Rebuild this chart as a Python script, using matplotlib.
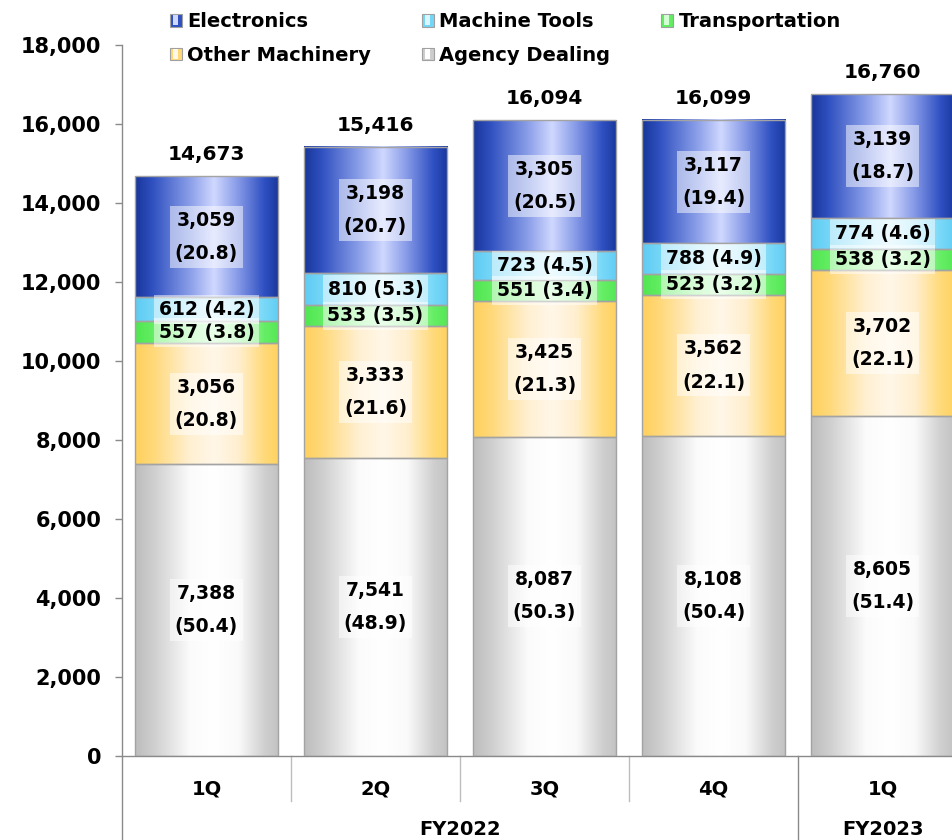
import numpy as np
import matplotlib
matplotlib.use("Agg")
from matplotlib import pyplot as plt
from matplotlib.patches import Patch, Rectangle
from matplotlib.legend_handler import HandlerBase
import matplotlib.transforms as mtransforms

# quarterly sales by segment (million yen), share of total in brackets
quarters = ["1Q", "2Q", "3Q", "4Q", "1Q"]
years = ["FY2022", "FY2023"]
totals = [14673, 15416, 16094, 16099, 16760]

agency = [7388, 7541, 8087, 8108, 8605]
agency_pct = [50.4, 48.9, 50.3, 50.4, 51.4]
other_mach = [3056, 3333, 3425, 3562, 3702]
other_pct = [20.8, 21.6, 21.3, 22.1, 22.1]
transport = [557, 533, 551, 523, 538]
transport_pct = [3.8, 3.5, 3.4, 3.2, 3.2]
mach_tools = [612, 810, 723, 788, 774]
tools_pct = [4.2, 5.3, 4.5, 4.9, 4.6]
electronics = [3059, 3198, 3305, 3117, 3139]
elec_pct = [20.8, 20.7, 20.5, 19.4, 18.7]

# shading stops across each bar, left -> right
stop_pos = [0.0, 0.12, 0.38, 0.55, 0.72, 0.9, 1.0]
shade_agency = ["#bdbdbd", "#cdcdcd", "#fbfbfb", "#ffffff", "#fafafa", "#d0d0d0", "#c2c2c2"]
shade_other = ["#ffd05c", "#ffd878", "#fff0d2", "#fff7e8", "#ffefcf", "#ffda7a", "#ffd25f"]
shade_trans = ["#50e650", "#62ed62", "#b4fab4", "#d4ffd4", "#b0f8b0", "#66ee66", "#55e855"]
shade_tools = ["#5ecbf3", "#74d6f7", "#bdeefd", "#dcf6ff", "#b8ecfc", "#78d8f8", "#62cdf4"]
shade_elec = ["#18369a", "#2f50c0", "#8a9ee8", "#d0d8ff", "#8498e6", "#2f50c2", "#19389c"]

# stacking order bottom -> top: (name, values, pcts, shading, two-line label)
series = [
    ("Agency Dealing", agency, agency_pct, shade_agency, True),
    ("Other Machinery", other_mach, other_pct, shade_other, True),
    ("Transportation", transport, transport_pct, shade_trans, False),
    ("Machine Tools", mach_tools, tools_pct, shade_tools, False),
    ("Electronics", electronics, elec_pct, shade_elec, True),
]
shades = {s[0]: s[3] for s in series}


def gradient(cols, n=240):
    """left-to-right cylinder shading"""
    cs = np.array([matplotlib.colors.to_rgb(c) for c in cols])
    t = np.linspace(0, 1, n)
    img = np.stack([np.interp(t, stop_pos, cs[:, k]) for k in range(3)], axis=1)
    return img[None, :, :]


class GradientBox(HandlerBase):
    def create_artists(self, legend, orig_handle, xdescent, ydescent,
                       width, height, fontsize, trans):
        cols = shades[orig_handle.get_label()]
        s = height
        x0 = -xdescent + (width - s) / 2
        y0 = -ydescent
        arts = [Rectangle((x0, y0), s, s, facecolor=cols[1], edgecolor="#a0a0a0",
                          linewidth=0.8, transform=trans)]
        arts.append(Rectangle((x0 + s * 0.3, y0 + 0.8), s * 0.4, s - 1.6,
                              facecolor=cols[3], edgecolor="none", transform=trans))
        return arts


plt.rcParams["font.family"] = ["DejaVu Sans"]
plt.rcParams["font.weight"] = "bold"

fig = plt.figure(figsize=(9.53, 8.40), dpi=100)
ax = fig.add_axes([0.128, 0.1, 0.872, 0.8464])

x = np.arange(len(quarters))
width = 0.85
bottom = np.zeros(len(quarters))
handles = {}
for name, vals, pcts, cols, two_line in series:
    vals = np.array(vals, dtype=float)
    img = gradient(cols)
    for i in range(len(x)):
        ax.imshow(img, extent=[x[i] - width / 2, x[i] + width / 2, bottom[i], bottom[i] + vals[i]],
                  aspect="auto", interpolation="bilinear", zorder=2)
    ax.bar(x, vals, width, bottom=bottom, facecolor="none", edgecolor="#a3a3a3",
           linewidth=1.0, zorder=3)
    for i in range(len(x)):
        yc = bottom[i] + vals[i] / 2
        if two_line:
            txt = "{:,}\n({:.1f})".format(int(vals[i]), pcts[i])
        else:
            txt = "{:,} ({:.1f})".format(int(vals[i]), pcts[i])
        ax.text(x[i], yc, txt, ha="center", va="center", fontsize=13.5,
                fontweight="bold", linespacing=1.95, zorder=5,
                bbox=dict(facecolor="white", alpha=0.5, edgecolor="none", pad=3.5))
    handles[name] = Patch(facecolor=cols[1], label=name)
    bottom += vals

for i in range(len(x)):
    ax.annotate("{:,}".format(totals[i]), (x[i], bottom[i]), xytext=(0, 9),
                textcoords="offset points", ha="center", va="bottom",
                fontsize=14.5, fontweight="bold")

ax.set_xlim(-0.5, 4.417)
ax.set_ylim(0, 18000)
ax.set_yticks(np.arange(0, 18001, 2000))
ax.set_yticklabels(["{:,}".format(v) for v in range(0, 18001, 2000)],
                   fontsize=15, fontweight="bold")
ax.tick_params(axis="y", length=5, width=1, color="#8a8a8a", pad=10)
ax.set_xticks([])
for side in ["top", "right"]:
    ax.spines[side].set_visible(False)
ax.spines["left"].set_color("#8a8a8a")
ax.spines["bottom"].set_color("#8a8a8a")
ax.spines["left"].set_linewidth(1)
ax.spines["bottom"].set_linewidth(1)

# two-level category axis underneath
trans = mtransforms.blended_transform_factory(ax.transData, ax.transAxes)
for xs in [0.5, 1.5, 2.5]:
    ax.plot([xs, xs], [0, -0.063], transform=trans, color="#bdbdbd", lw=1, clip_on=False)
for xs in [-0.5, 3.5]:
    ax.plot([xs, xs], [0, -0.125], transform=trans, color="#8a8a8a", lw=1, clip_on=False)
for i, q in enumerate(quarters):
    ax.text(x[i], -0.046, q, transform=trans, ha="center", va="center",
            fontsize=14, fontweight="bold")
ax.text(1.5, -0.104, years[0], transform=trans, ha="center", va="center",
        fontsize=14, fontweight="bold")
ax.text(4.0, -0.104, years[1], transform=trans, ha="center", va="center",
        fontsize=14, fontweight="bold")

order = ["Electronics", "Other Machinery", "Machine Tools", "Agency Dealing", "Transportation"]
leg = fig.legend([handles[n] for n in order], order, loc="upper left",
                 bbox_to_anchor=(0.162, 1.004), ncol=3, frameon=False,
                 handler_map={Patch: GradientBox()},
                 prop=dict(size=14, weight="bold"), handlelength=0.6, handleheight=0.6,
                 handletextpad=0.3, columnspacing=2.6, labelspacing=0.76, borderpad=0.3)

fig.savefig("out.png", dpi=100)
